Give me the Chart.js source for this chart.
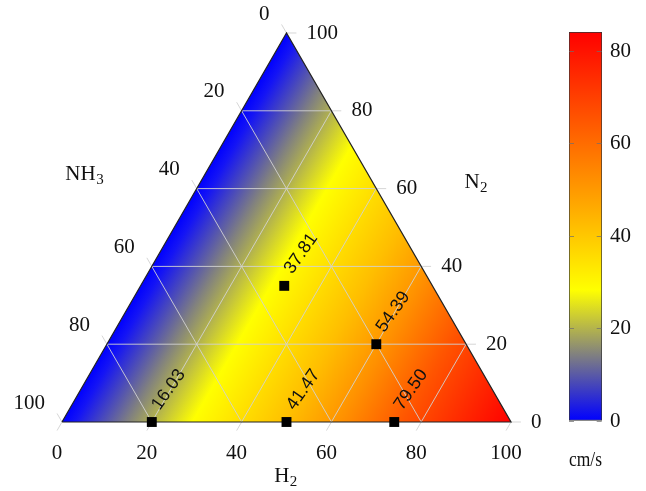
<!DOCTYPE html>
<html>
<head>
<meta charset="utf-8">
<script src="https://cdn.jsdelivr.net/npm/chart.js@4.4.0/dist/chart.umd.min.js"></script>
<style>
  body { margin: 0; background: #fff; }
  #wrap { position: relative; width: 646px; height: 491px; }
  #tern { position: absolute; left: 0; top: 0; }
  #cbar { position: absolute; left: 540px; top: 0; }
</style>
</head>
<body>
<div id="wrap">
  <canvas id="tern" width="646" height="491"></canvas>
  <canvas id="cbar" width="106" height="491"></canvas>
</div>
<script>
// measured mixtures (percent) and flame speed at each one
const h2 = [20, 50, 74, 60, 32];
const n2 = [0, 0, 0, 20, 35];
const speeds = [16.03, 41.47, 79.50, 54.39, 37.81];

// ternary axis ticks (percent)
const axisTicks = [0, 20, 40, 60, 80, 100];
const gridVals = [20, 40, 60, 80];

// colour bar
const cbarTicks = [0, 20, 40, 60, 80];
const cbarMax = 84.2;

const serif = '"Liberation Serif", "DejaVu Serif", serif';
const S = Math.sqrt(3) / 2;
const tickLen = 2.2;

// colour stops along the H2 direction of the triangle
const triStops = [
    [0, 'rgb(0,0,255)'],
    [0.03, 'rgb(20,20,245)'],
    [0.145, 'rgb(128,128,128)'],
    [0.29, 'rgb(255,255,0)'],
    [0.5, 'rgb(255,190,0)'],
    [0.62, 'rgb(255,145,0)'],
    [0.76, 'rgb(255,85,0)'],
    [1, 'rgb(255,0,0)'],
];
const barStops = [
    [0, 'rgb(0,0,255)'],
    [0.17, 'rgb(128,128,128)'],
    [0.337, 'rgb(255,255,0)'],
    [0.55, 'rgb(255,170,0)'],
    [1, 'rgb(255,0,0)'],
];

// H2 / N2 percent -> plane coordinates (NH3 is the rest)
function toXY(a, b) {
    return { x: a + b / 2, y: b * S };
}

function triGradient(context) {
    const chart = context.chart;
    if (!chart.chartArea) return null;
    const { x, y } = chart.scales;
    const a = toXY(0, 50);
    const b = toXY(100, 0);
    const g = chart.ctx.createLinearGradient(
        x.getPixelForValue(a.x), y.getPixelForValue(a.y),
        x.getPixelForValue(b.x), y.getPixelForValue(b.y));
    triStops.forEach(([t, c]) => g.addColorStop(t, c));
    return g;
}

function barGradient(context) {
    const area = context.chart.chartArea;
    if (!area) return null;
    const g = context.chart.ctx.createLinearGradient(0, area.bottom, 0, area.top);
    barStops.forEach(([t, c]) => g.addColorStop(t, c));
    return g;
}

function segment(p, q) {
    return {
        type: 'line',
        data: [p, q],
        borderColor: 'rgba(210,210,210,0.9)',
        borderWidth: 1,
        pointRadius: 0,
        fill: false,
        clip: false,
        order: 2,
    };
}

// grid lines for the three components, plus the little ticks outside
const gridSets = [];
gridVals.forEach((c) => {
    gridSets.push(segment(toXY(c, 0), toXY(c, 100 - c)));
    gridSets.push(segment(toXY(0, c), toXY(100 - c, c)));
    gridSets.push(segment(toXY(100 - c, 0), toXY(0, 100 - c)));
});
axisTicks.forEach((c) => {
    let p = toXY(c, 0);
    gridSets.push(segment(p, { x: p.x - 0.5 * tickLen, y: p.y - S * tickLen }));
    p = toXY(100 - c, c);
    gridSets.push(segment(p, { x: p.x + tickLen, y: p.y }));
    p = toXY(0, 100 - c);
    gridSets.push(segment(p, { x: p.x - 0.5 * tickLen, y: p.y + S * tickLen }));
});

function drawSub(ctx, main, sub, cx, cy) {
    ctx.font = '21px ' + serif;
    const w1 = ctx.measureText(main).width;
    ctx.font = '15px ' + serif;
    const w2 = ctx.measureText(sub).width;
    const x0 = cx - (w1 + w2) / 2;
    ctx.textAlign = 'left';
    ctx.textBaseline = 'middle';
    ctx.font = '21px ' + serif;
    ctx.fillText(main, x0, cy);
    ctx.font = '15px ' + serif;
    ctx.fillText(sub, x0 + w1 + 0.5, cy + 6);
}

const ternaryText = {
    id: 'ternaryText',
    afterDraw(chart) {
        const { ctx } = chart;
        const { x, y } = chart.scales;
        const px = (a, b) => {
            const p = toXY(a, b);
            return [x.getPixelForValue(p.x), y.getPixelForValue(p.y)];
        };
        ctx.save();
        ctx.fillStyle = '#111';
        ctx.font = '21px ' + serif;
        ctx.textBaseline = 'middle';

        // N2 labels on the right edge
        ctx.textAlign = 'left';
        axisTicks.forEach((c) => {
            const [X, Y] = px(100 - c, c);
            ctx.fillText(String(c), X + 20, Y);
        });
        // NH3 labels on the left edge
        ctx.textAlign = 'right';
        axisTicks.forEach((c) => {
            const [X, Y] = px(0, 100 - c);
            ctx.fillText(String(c), X - 17, Y - 19);
        });

        // axis titles
        let [X, Y] = px(0, 50);
        drawSub(ctx, 'NH', '3', X - 90, Y - 53);
        [X, Y] = px(50, 50);
        drawSub(ctx, 'N', '2', X + 77, Y - 45);
        [X, Y] = px(50, 0);
        drawSub(ctx, 'H', '2', X - 1, Y + 54);

        // value next to each point
        ctx.font = '18px "Liberation Sans", Arial, sans-serif';
        ctx.textAlign = 'left';
        ctx.textBaseline = 'alphabetic';
        speeds.forEach((v, i) => {
            const [PX, PY] = px(h2[i], n2[i]);
            ctx.save();
            ctx.translate(PX + 8, PY - 11);
            ctx.rotate(-55 * Math.PI / 180);
            ctx.fillText(v.toFixed(2), 0, 0);
            ctx.restore();
        });
        ctx.restore();
    },
};

new Chart(document.getElementById('tern'), {
    type: 'scatter',
    data: {
        datasets: [
            {
                type: 'scatter',
                data: h2.map((v, i) => toXY(v, n2[i])),
                pointStyle: 'rect',
                pointRadius: 7,
                backgroundColor: '#000',
                borderWidth: 0,
                clip: false,
                order: 0,
            },
            {
                type: 'line',
                data: [toXY(0, 0), toXY(100, 0), toXY(0, 100), toXY(0, 0)],
                borderColor: '#222',
                borderWidth: 1.2,
                pointRadius: 0,
                fill: false,
                clip: false,
                order: 1,
            },
            ...gridSets,
            {
                type: 'line',
                data: [toXY(0, 0), toXY(0, 100), toXY(100, 0)],
                borderWidth: 0,
                pointRadius: 0,
                fill: 'origin',
                backgroundColor: triGradient,
                clip: false,
                order: 3,
            },
        ],
    },
    options: {
        responsive: false,
        animation: false,
        events: [],
        layout: { padding: { left: 62, right: 135, top: 33, bottom: 29 } },
        plugins: { legend: { display: false }, tooltip: { enabled: false } },
        scales: {
            x: {
                type: 'linear',
                min: 0,
                max: 100,
                afterBuildTicks: (s) => { s.ticks = axisTicks.map((v) => ({ value: v })); },
                afterFit: (s) => { s.height = 40; },
                grid: { display: false },
                border: { display: false },
                ticks: {
                    padding: 11,
                    labelOffset: -5,
                    color: '#111',
                    maxRotation: 0,
                    autoSkip: false,
                    font: { family: serif, size: 21 },
                },
            },
            y: { type: 'linear', min: 0, max: 100 * S, display: false },
        },
    },
    plugins: [ternaryText],
});

new Chart(document.getElementById('cbar'), {
    type: 'bar',
    data: {
        labels: [''],
        datasets: [{
            data: [[0, cbarMax]],
            backgroundColor: barGradient,
            borderColor: '#333',
            borderWidth: 1,
            borderSkipped: false,
            barPercentage: 1,
            categoryPercentage: 1,
        }],
    },
    options: {
        responsive: false,
        animation: false,
        events: [],
        layout: { padding: { left: 29, top: 32, right: 4, bottom: 0 } },
        plugins: { legend: { display: false }, tooltip: { enabled: false } },
        scales: {
            x: {
                grid: { display: false },
                border: { display: false },
                ticks: { display: false },
                afterFit: (s) => { s.height = 70; },
                title: {
                    display: true,
                    text: 'cm/s',
                    color: '#111',
                    font: { family: serif, size: 21 },
                    padding: { top: 0, bottom: 18 },
                },
            },
            y: {
                position: 'right',
                min: 0,
                max: cbarMax,
                afterBuildTicks: (s) => { s.ticks = cbarTicks.map((v) => ({ value: v })); },
                afterFit: (s) => { s.width = 40; },
                grid: { drawTicks: false, color: 'rgba(110,110,110,0.7)', z: 1 },
                border: { display: false, dash: [5, 22.7] },
                ticks: { padding: 8, color: '#111', font: { family: serif, size: 21 } },
            },
        },
    },
});
</script>
</body>
</html>
